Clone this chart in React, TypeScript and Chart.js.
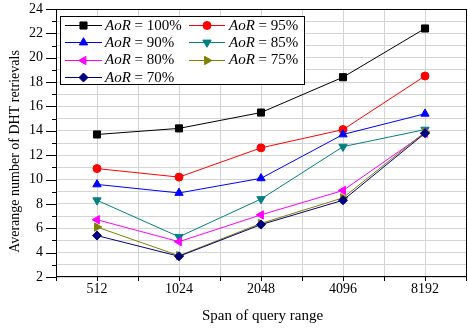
import React, { useEffect, useRef } from 'react';
import { Chart, registerables } from 'chart.js';
import { drawPoint } from 'chart.js/helpers';

Chart.register(...registerables);

const categories = ['512', '1024', '2048', '4096', '8192'];
const seriesLabels = ['100%', '95%', '90%', '85%', '80%', '75%', '70%'];
const aor100 = [13.7, 14.2, 15.5, 18.4, 22.4];
const aor95 = [10.9, 10.2, 12.6, 14.1, 18.5];
const aor90 = [9.6, 8.9, 10.1, 13.7, 15.4];
const aor85 = [8.3, 5.3, 8.4, 12.7, 14.1];
const aor80 = [6.7, 4.9, 7.1, 9.1, 13.8];
const aor75 = [6.1, 3.75, 6.4, 8.5, 13.9];
const aor70 = [5.4, 3.7, 6.3, 8.3, 13.8];
const yMin = 2;
const yMax = 24;

const series = [aor100, aor95, aor90, aor85, aor80, aor75, aor70];
const colors = ['#000000', '#ff0000', '#0000ff', '#008080', '#ff00ff', '#808000', '#000080'];
const markers = [
  { pointStyle: 'rect', rotation: 0, radius: 5 },
  { pointStyle: 'circle', rotation: 0, radius: 4 },
  { pointStyle: 'triangle', rotation: 0, radius: 4.8 },
  { pointStyle: 'triangle', rotation: 180, radius: 4.8 },
  { pointStyle: 'triangle', rotation: -90, radius: 4.8 },
  { pointStyle: 'triangle', rotation: 90, radius: 4.8 },
  { pointStyle: 'rectRot', rotation: 0, radius: 4.5 },
];

const FONT = '"Liberation Serif", "Times New Roman", serif';

const decorPlugin = {
  id: 'decor',
  afterDraw(chart: any) {
    const { ctx, chartArea: a, scales } = chart;
    const xs = scales.x;
    const ys = scales.y;
    ctx.save();
    ctx.strokeStyle = '#000';
    ctx.lineWidth = 1;
    // frame
    ctx.strokeRect(Math.round(a.left) + 0.5, Math.round(a.top) + 0.5, Math.round(a.right - a.left), Math.round(a.bottom - a.top) - 1);
    // y ticks
    ctx.beginPath();
    ys.ticks.forEach((t: any) => {
      const py = Math.round(ys.getPixelForValue(t.value)) + 0.5;
      const len = t.value % 2 === 0 ? 10 : 4;
      ctx.moveTo(a.left - len, py);
      ctx.lineTo(a.left + 1, py);
    });
    // x ticks
    xs.ticks.forEach((t: any) => {
      const px = Math.round(xs.getPixelForValue(t.value)) + 0.5;
      ctx.moveTo(px, a.bottom - 1);
      ctx.lineTo(px, a.bottom + 4);
    });
    ctx.stroke();

    // legend
    const bx = 60.5, by = 16.5, bw = 244, bh = 68;
    ctx.fillStyle = '#fff';
    ctx.fillRect(bx, by, bw, bh);
    ctx.strokeRect(bx, by, bw, bh);
    const rowY = [25, 42.3, 59.5, 76.7];
    const colLine = [[65, 102], [189, 225]];
    const colText = [105, 229];
    series.forEach((_, i) => {
      const col = i % 2;
      const row = Math.floor(i / 2);
      const y = rowY[row];
      ctx.strokeStyle = colors[i];
      ctx.fillStyle = colors[i];
      ctx.lineWidth = 1;
      ctx.beginPath();
      ctx.moveTo(colLine[col][0], Math.round(y) + 0.5);
      ctx.lineTo(colLine[col][1], Math.round(y) + 0.5);
      ctx.stroke();
      const mx = (colLine[col][0] + colLine[col][1]) / 2;
      drawPoint(ctx, { ...markers[i], borderWidth: 1 } as any, mx, Math.round(y) + 0.5);
      ctx.fillStyle = '#000';
      ctx.textBaseline = 'middle';
      ctx.textAlign = 'left';
      ctx.font = 'italic 15px ' + FONT;
      const tx = colText[col];
      ctx.fillText('AoR', tx, y + 1);
      const w = ctx.measureText('AoR').width;
      ctx.font = '15px ' + FONT;
      ctx.fillText(' = ' + seriesLabels[i], tx + w, y + 1);
    });

    // axis titles
    ctx.fillStyle = '#000';
    ctx.textAlign = 'center';
    ctx.textBaseline = 'middle';
    ctx.font = '15px ' + FONT;
    ctx.fillText('Span of query range', 262.5, 316);
    ctx.save();
    ctx.translate(15, 151.5);
    ctx.rotate(-Math.PI / 2);
    ctx.font = '14px ' + FONT;
    ctx.fillText('Averange number of DHT retrievals', 0, 0);
    ctx.restore();
    ctx.restore();
  },
};

export default function App() {
  const ref = useRef<HTMLCanvasElement | null>(null);
  useEffect(() => {
    if (!ref.current) return;
    const chart = new Chart(ref.current, {
      type: 'line',
      data: {
        datasets: series.map((vals, i) => ({
          label: 'AoR = ' + seriesLabels[i],
          data: vals.map((v, j) => ({ x: j + 0.5, y: v })),
          borderColor: colors[i],
          backgroundColor: colors[i],
          borderWidth: 1,
          pointStyle: markers[i].pointStyle as any,
          rotation: markers[i].rotation,
          pointRadius: markers[i].radius,
          pointBorderWidth: 1,
          tension: 0,
          order: series.length - i,
          clip: false as any,
        })),
      },
      options: {
        animation: false,
        responsive: false,
        devicePixelRatio: 1,
        layout: { padding: { left: 0, right: 2, top: 9, bottom: 0 } },
        plugins: { legend: { display: false }, tooltip: { enabled: false } },
        scales: {
          x: {
            type: 'linear',
            min: 0,
            max: categories.length,
            border: { display: false },
            grid: { color: '#d4d4d4', lineWidth: 1, drawTicks: false },
            ticks: {
              stepSize: 0.5,
              autoSkip: false,
              maxRotation: 0,
              padding: 3.5,
              color: '#000',
              font: { family: FONT, size: 14 },
              callback: (v: any) => {
                const n = Number(v);
                return Math.abs(n % 1 - 0.5) < 1e-6 ? categories[Math.floor(n)] : '';
              },
            },
            afterFit: (s: any) => { s.height = 54; },
          },
          y: {
            type: 'linear',
            min: yMin,
            max: yMax,
            border: { display: false },
            grid: { color: '#d4d4d4', lineWidth: 1, drawTicks: true, tickLength: 13, tickColor: 'rgba(0,0,0,0)' },
            ticks: {
              stepSize: 1,
              autoSkip: false,
              padding: 0,
              color: '#000',
              font: { family: FONT, size: 14 },
              callback: (v: any) => (Number(v) % 2 === 0 ? String(v) : ''),
            },
            afterFit: (s: any) => { s.width = 56; },
          },
        },
      },
      plugins: [decorPlugin],
    });
    return () => chart.destroy();
  }, []);
  return (
    <canvas
      ref={ref}
      width={472}
      height={331}
      style={{ position: 'fixed', left: 0, top: 0, width: 472, height: 331 }}
    />
  );
}
